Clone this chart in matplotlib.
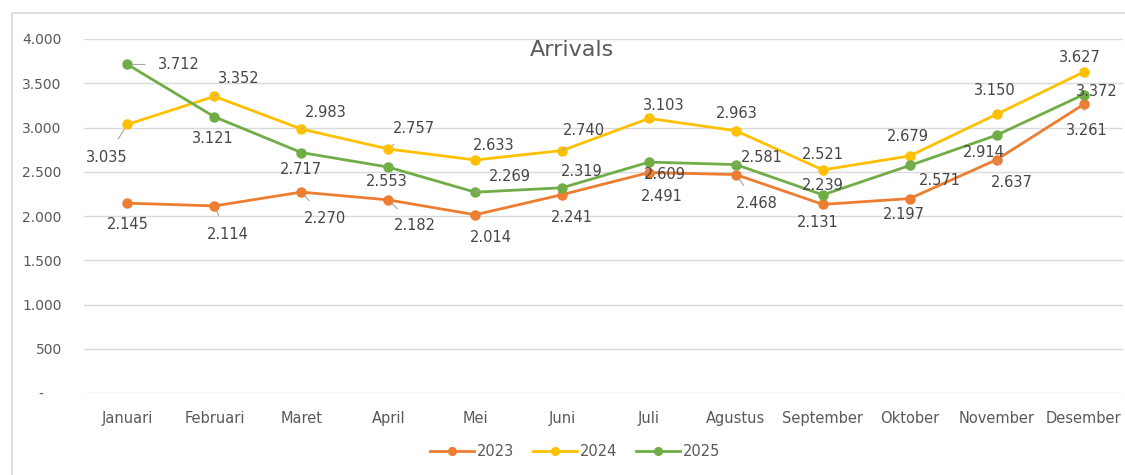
import numpy as np
import matplotlib
matplotlib.use('Agg')
import matplotlib.pyplot as plt
from matplotlib.patches import Rectangle
from matplotlib.ticker import FuncFormatter

# data
months = ['Januari', 'Februari', 'Maret', 'April', 'Mei', 'Juni', 'Juli',
          'Agustus', 'September', 'Oktober', 'November', 'Desember']
arr_2023 = [2145, 2114, 2270, 2182, 2014, 2241, 2491, 2468, 2131, 2197, 2637, 3261]
arr_2024 = [3035, 3352, 2983, 2757, 2633, 2740, 3103, 2963, 2521, 2679, 3150, 3627]
arr_2025 = [3712, 3121, 2717, 2553, 2269, 2319, 2609, 2581, 2239, 2571, 2914, 3372]

# label offsets in pixels (dx, dy with dy up)
off_2023 = [(0, -21), (13, -29), (24, -26), (27, -26), (16, -23), (10, -23),
            (13, -24), (21, -29), (-5, -18), (-6, -16), (15, -23), (3, -26)]
off_2024 = [(-21, -33), (24, 18), (24, 17), (26, 21), (19, 14), (22, 20),
            (15, 13), (1, 17), (0, 15), (-2, 19), (-2, 24), (-4, 15)]
off_2025 = [(51, 0), (-2, -22), (0, -17), (-1, -14), (35, 16), (20, 16),
            (16, -12), (26, 7), (0, 9), (30, -15), (-13, -17), (13, 3)]

colors = {'2023': '#ED7D31', '2024': '#FFC000', '2025': '#70AD47'}
txt_col = '#595959'
lab_col = '#464646'

plt.rcParams['font.family'] = ['DejaVu Sans']

fig = plt.figure(figsize=(11.25, 4.75), dpi=100)
ax = fig.add_axes([84 / 1125, 1 - 393 / 475, 1 - 84 / 1125 - 0.002, 354 / 475])

# chart border
fig.patches.append(Rectangle((12 / 1125, -0.1), 1.2, 1 - 13 / 475 + 0.1,
                             transform=fig.transFigure, fill=False,
                             edgecolor='#d9d9d9', linewidth=1.2))

x = np.arange(len(months))
series = [('2023', arr_2023, off_2023), ('2024', arr_2024, off_2024),
          ('2025', arr_2025, off_2025)]

for name, vals, offs in series:
    ax.plot(x, vals, color=colors[name], linewidth=2, marker='o',
            markersize=6.5, label=name, zorder=3)

for name, vals, offs in series:
    for xi, v, (dx, dy) in zip(x, vals, offs):
        lab = f'{v:,}'.replace(',', '.')
        far = (dx * dx + dy * dy) > 26 ** 2
        ax.annotate(lab, (xi, v), xytext=(dx, dy), textcoords='offset pixels',
                    ha='center', va='center', fontsize=10.5, color=lab_col,
                    arrowprops=dict(arrowstyle='-', color='#a6a6a6', lw=0.8,
                                    shrinkA=7, shrinkB=4) if far else None,
                    zorder=4)

ax.set_ylim(0, 4000)
ax.set_xlim(-0.5, 11.45)
ax.set_yticks(np.arange(0, 4001, 500))
ax.yaxis.set_major_formatter(FuncFormatter(
    lambda v, p: '-    ' if v == 0 else f'{int(v):,}'.replace(',', '.')))
ax.set_xticks(x)
ax.set_xticklabels(months)
ax.grid(axis='y', color='#d9d9d9', linewidth=1)
ax.set_axisbelow(True)
for s in ax.spines.values():
    s.set_visible(False)
ax.tick_params(axis='both', length=0, colors=txt_col, labelsize=10)
ax.tick_params(axis='y', pad=16)
ax.tick_params(axis='x', pad=13)
for t in ax.get_xticklabels():
    t.set_fontsize(10.5)

fig.text(572 / 1125, 1 - 50 / 475, 'Arrivals', ha='center', va='center',
         fontsize=16, color=txt_col)

fig.legend(loc='center', bbox_to_anchor=(575 / 1125, 1 - 452 / 475), ncol=3,
           frameon=False, fontsize=10.5, labelcolor=txt_col, handlelength=3,
           handletextpad=0.2, columnspacing=1.3, markerscale=0.85)

fig.savefig('out.png', dpi=100)
